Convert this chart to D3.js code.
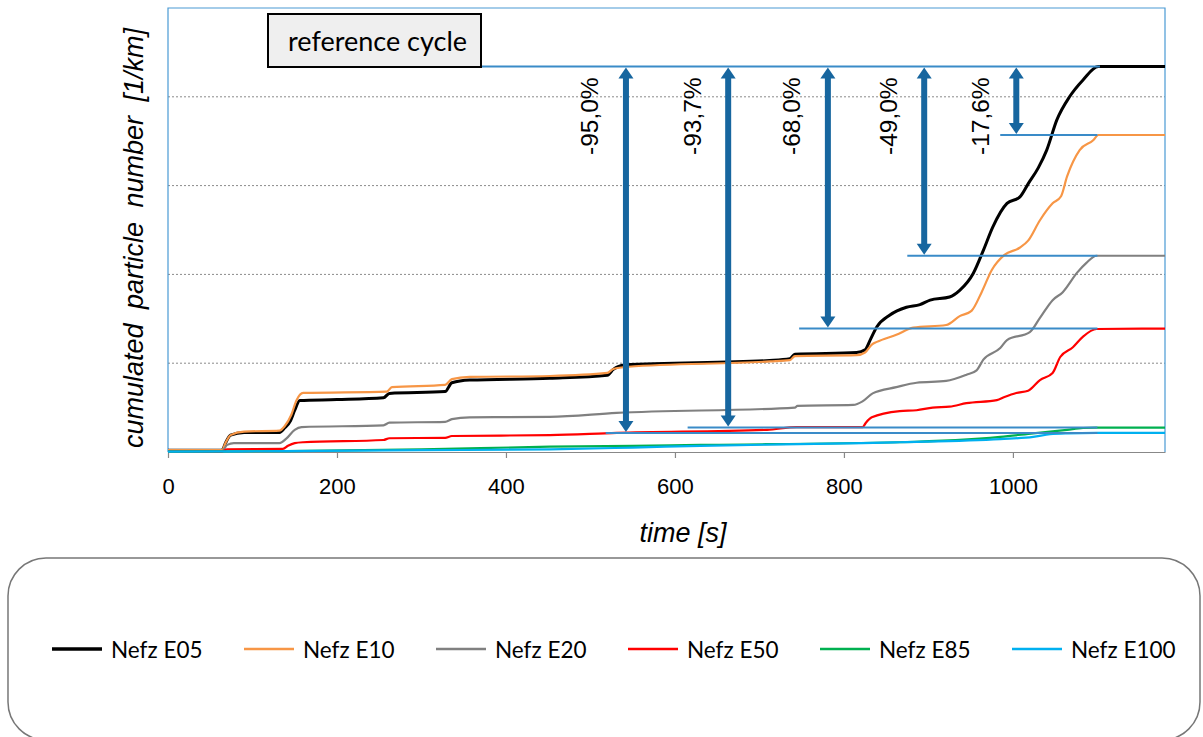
<!DOCTYPE html>
<html>
<head>
<meta charset="utf-8">
<script src="https://cdn.jsdelivr.net/npm/d3@7"></script>
<style>
  html, body { margin: 0; padding: 0; background: #fff; }
  svg { display: block; }
</style>
</head>
<body>
<svg id="chart" width="1203" height="737"></svg>
<script>
// ---------- DATA (time [s], cumulated particle number, arbitrary units) ----------
const seriesNames = ["Nefz E05", "Nefz E10", "Nefz E20", "Nefz E50", "Nefz E85", "Nefz E100"];
const seriesColors = ["#000000", "#f79646", "#808080", "#ff0000", "#00b050", "#00b0f0"];

const e05 = [[0,0.02],[64,0.02],[68,0.10],[74,0.19],[90,0.22],[132,0.22],[138,0.27],[145,0.35],[150,0.47],[156,0.58],[200,0.59],[255,0.61],[262,0.66],[328,0.68],[336,0.78],[357,0.81],[452,0.83],[520,0.865],[527,0.93],[540,0.98],[712,1.03],[736,1.05],[742,1.10],[815,1.12],[825,1.15],[831,1.26],[839,1.41],[854,1.54],[874,1.63],[890,1.66],[902,1.71],[925,1.745],[937,1.82],[953,2.01],[965,2.27],[976,2.53],[993,2.80],[1008,2.87],[1018,3.02],[1030,3.20],[1040,3.40],[1052,3.74],[1067,4.00],[1083,4.19],[1101,4.34],[1180,4.34]];
const e10 = [[0,0.02],[64,0.02],[68,0.10],[74,0.19],[90,0.23],[132,0.24],[138,0.29],[146,0.42],[152,0.58],[160,0.665],[259,0.68],[265,0.73],[328,0.755],[336,0.82],[357,0.845],[452,0.856],[520,0.89],[527,0.935],[545,0.96],[712,1.02],[736,1.035],[742,1.08],[815,1.09],[825,1.12],[833,1.21],[839,1.24],[862,1.32],[882,1.40],[921,1.43],[937,1.53],[951,1.59],[963,1.80],[975,2.05],[990,2.22],[1008,2.30],[1018,2.38],[1032,2.61],[1047,2.80],[1057,2.88],[1064,3.10],[1079,3.40],[1095,3.51],[1101,3.57],[1180,3.57]];
const e20 = [[0,0.01],[64,0.01],[70,0.08],[78,0.10],[132,0.10],[140,0.15],[150,0.25],[158,0.28],[255,0.30],[262,0.33],[328,0.34],[336,0.37],[357,0.39],[452,0.395],[531,0.44],[742,0.50],[745,0.52],[811,0.53],[822,0.57],[834,0.66],[862,0.73],[886,0.78],[921,0.80],[945,0.87],[957,0.92],[965,1.04],[985,1.17],[993,1.26],[1020,1.35],[1032,1.51],[1047,1.71],[1059,1.80],[1076,2.02],[1087,2.13],[1099,2.21],[1180,2.21]];
const e50 = [[0,0.005],[64,0.005],[70,0.03],[136,0.035],[142,0.07],[150,0.10],[160,0.11],[255,0.135],[262,0.155],[328,0.16],[336,0.18],[452,0.19],[531,0.215],[709,0.25],[744,0.28],[822,0.28],[826,0.33],[833,0.39],[866,0.46],[886,0.47],[905,0.50],[925,0.51],[945,0.55],[981,0.585],[990,0.62],[1004,0.665],[1018,0.69],[1032,0.81],[1047,0.89],[1056,1.07],[1071,1.18],[1083,1.30],[1099,1.385],[1180,1.39]];
const e85 = [[0,0.005],[140,0.01],[300,0.03],[452,0.06],[550,0.07],[630,0.08],[866,0.11],[985,0.17],[1024,0.21],[1064,0.25],[1083,0.27],[1099,0.275],[1180,0.275]];
const e100 = [[0,0.005],[140,0.01],[300,0.02],[452,0.03],[550,0.05],[630,0.07],[822,0.10],[866,0.11],[985,0.145],[1024,0.17],[1044,0.20],[1064,0.21],[1099,0.215],[1180,0.215]];
const seriesData = [e05, e10, e20, e50, e85, e100];

const xTicks = [0, 200, 400, 600, 800, 1000];
const yGrid = [1, 2, 3, 4];

// reduction annotations (relative to E05 reference cycle)
const referenceValue = 4.34;
const referenceLineTimes = [224, 1103];
const reductionLabels = ["-95,0%", "-93,7%", "-68,0%", "-49,0%", "-17,6%"];
const reductionTargets = [0.215, 0.275, 1.39, 2.21, 3.57];
const reductionArrowTimes = [542, 663, 781, 895, 1004];
const reductionLineStarts = [518, 615, 747, 875, 985];
const reductionLineEnd = 1100;

// ---------- LAYOUT ----------
const svg = d3.select("#chart");
const plot = { left: 168, right: 1165, top: 8, bottom: 452 };
const x = d3.scaleLinear().domain([0, 1180]).range([plot.left, plot.right]);
const y = d3.scaleLinear().domain([0, 5]).range([plot.bottom, plot.top]);

// grid
svg.append("g").selectAll("line").data(yGrid).join("line")
  .attr("x1", plot.left).attr("x2", plot.right)
  .attr("y1", d => y(d)).attr("y2", d => y(d))
  .attr("stroke", "#8a8a8a").attr("stroke-width", 1).attr("stroke-dasharray", "2,2");

// frame (top / right / left in light blue)
svg.append("path")
  .attr("d", `M${plot.left},${plot.bottom} V${plot.top} H${plot.right} V${plot.bottom}`)
  .attr("fill", "none").attr("stroke", "#4a9ad4").attr("stroke-width", 1.2);

// x axis
const xAxis = svg.append("g")
  .attr("transform", `translate(0,${plot.bottom})`)
  .call(d3.axisBottom(x).tickValues(xTicks).tickSize(6).tickSizeOuter(0).tickPadding(20).tickFormat(d3.format("d")));
xAxis.select(".domain").attr("stroke", "#888").attr("stroke-width", 1.2);
xAxis.selectAll(".tick line").attr("stroke", "#888").attr("stroke-width", 1.2);
xAxis.selectAll(".tick text")
  .attr("font-family", "'Liberation Sans', Arial, sans-serif")
  .attr("font-size", 22).attr("fill", "#000");

// axis titles
svg.append("text")
  .attr("x", 683).attr("y", 542)
  .attr("text-anchor", "middle")
  .attr("font-family", "'Liberation Sans', Arial, sans-serif")
  .attr("font-style", "italic").attr("font-size", 27)
  .text("time [s]");

svg.append("text")
  .attr("transform", `translate(143,${(plot.top + plot.bottom) / 2 + 8}) rotate(-90)`)
  .attr("text-anchor", "middle")
  .attr("font-family", "'Liberation Sans', Arial, sans-serif")
  .attr("font-style", "italic").attr("font-size", 27)
  .attr("word-spacing", 7)
  .text("cumulated  particle number [1/km]");

// series lines
const line = d3.line().x(d => x(d[0])).y(d => y(d[1])).curve(d3.curveMonotoneX);
svg.append("g").selectAll("path").data(seriesData).join("path")
  .attr("d", d => line(d))
  .attr("fill", "none")
  .attr("stroke", (d, i) => seriesColors[i])
  .attr("stroke-width", (d, i) => i === 0 ? 3 : 2.2)
  .attr("stroke-linejoin", "round");

// annotations: reference lines
const refColor = "#3a8bc8";
const arrowColor = "#17669f";
const ann = svg.append("g");
ann.append("line")
  .attr("x1", x(referenceLineTimes[0])).attr("x2", x(referenceLineTimes[1]))
  .attr("y1", y(referenceValue)).attr("y2", y(referenceValue))
  .attr("stroke", refColor).attr("stroke-width", 2);
ann.selectAll("line.target").data(reductionTargets).join("line")
  .attr("class", "target")
  .attr("x1", (d, i) => x(reductionLineStarts[i])).attr("x2", x(reductionLineEnd))
  .attr("y1", d => y(d)).attr("y2", d => y(d))
  .attr("stroke", refColor).attr("stroke-width", 2);

// double-headed arrows
const headLen = 11, headHalf = 7.5, shaftW = 6;
reductionTargets.forEach((t, i) => {
  const ax = x(reductionArrowTimes[i]);
  const yTop = y(referenceValue) + 1, yBot = y(t) - 1;
  ann.append("rect")
    .attr("x", ax - shaftW / 2).attr("y", yTop + headLen - 1)
    .attr("width", shaftW).attr("height", (yBot - headLen + 1) - (yTop + headLen - 1))
    .attr("fill", arrowColor);
  ann.append("path")
    .attr("d", `M${ax},${yTop} L${ax + headHalf},${yTop + headLen} L${ax - headHalf},${yTop + headLen} Z`)
    .attr("fill", arrowColor);
  ann.append("path")
    .attr("d", `M${ax},${yBot} L${ax + headHalf},${yBot - headLen} L${ax - headHalf},${yBot - headLen} Z`)
    .attr("fill", arrowColor);
  ann.append("text")
    .attr("transform", `translate(${ax - 36},155) rotate(-90)`)
    .attr("dominant-baseline", "central")
    .attr("font-family", "'Liberation Sans', Arial, sans-serif")
    .attr("font-size", 24.5).attr("fill", "#000")
    .text(reductionLabels[i]);
});

// "reference cycle" box
const refBox = svg.append("g");
refBox.append("rect")
  .attr("x", 268).attr("y", 14).attr("width", 213).attr("height", 53)
  .attr("fill", "#efefef").attr("stroke", "#000").attr("stroke-width", 2);
refBox.append("text")
  .attr("x", 288).attr("y", 51)
  .attr("font-family", "Lato, 'Open Sans', sans-serif")
  .attr("font-size", 27).attr("fill", "#000")
  .text("reference cycle");

// legend
const legend = svg.append("g");
legend.append("rect")
  .attr("x", 8).attr("y", 558).attr("width", 1192).attr("height", 182)
  .attr("rx", 38).attr("ry", 38)
  .attr("fill", "#fff").attr("stroke", "#777").attr("stroke-width", 1.5);
const items = legend.selectAll("g.item").data(seriesNames).join("g")
  .attr("class", "item")
  .attr("transform", (d, i) => `translate(${52 + 192 * i},649)`);
items.append("line")
  .attr("x1", 0).attr("x2", 50).attr("y1", 0).attr("y2", 0)
  .attr("stroke", (d, i) => seriesColors[i])
  .attr("stroke-width", (d, i) => i === 0 ? 3.5 : 2.5);
items.append("text")
  .attr("x", 59).attr("y", 0)
  .attr("dominant-baseline", "central")
  .attr("font-family", "Lato, 'Open Sans', sans-serif")
  .attr("font-size", 22.5).attr("fill", "#000")
  .text(d => d);
</script>
</body>
</html>
